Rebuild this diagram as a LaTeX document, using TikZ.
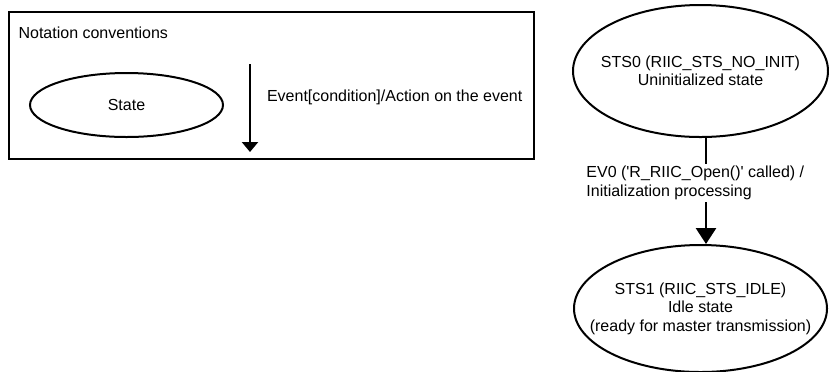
\documentclass[tikz,border=0pt]{standalone}
\usepackage{fontspec}
\setmainfont{Liberation Sans}
\usetikzlibrary{positioning, arrows.meta, shapes.geometric}

\begin{document}
\begin{tikzpicture}[x=0.5pt, y=-0.5pt, node distance = 53pt,
        every node/.style={font=\fontsize{8}{9.25}\selectfont},
        state/.style={draw, ellipse, line width=1pt, inner xsep=-12pt, inner ysep=0pt, align=center},
        evarrow/.style={-{Triangle[length=8pt,width=10pt]}, line width=1.4pt}]
        \useasboundingbox (0,0) rectangle (829,371);
        % notation
        \node (legend) [draw, line width=1pt, minimum width=262.75pt, minimum height=73.5pt, inner sep=0pt] at (271.25,85.5) {};
        \node (title) [anchor=west] at (11.5,33) {Notation conventions};
        \node (state) [state, minimum width=96.5pt, minimum height=32pt] at (126.5,105) {State};
        \coordinate (e1) at (250,64);
        \coordinate[below=44pt of e1] (e2);
        \draw[-{Triangle[length=5pt,width=8pt]}, line width=1.2pt] (e1) -- (e2);
        \node (event) [anchor=west] at (260,97) {Event[condition]/Action on the event};
        % states
        \node (sts0) [state, minimum width=127.5pt, minimum height=66pt] at (700.5,71)
            {STS0 (RIIC\_STS\_NO\_INIT)\\Uninitialized state};
        \node (sts1) [state, minimum width=126.5pt, minimum height=63.5pt, below=of sts0]
            {STS1 (RIIC\_STS\_IDLE)\\Idle state\\(ready for master transmission)};
        \draw[evarrow] ([xshift=2.75pt]sts0.south) -- ([xshift=2.75pt]sts1.north);
        \node (ev0) [fill=white, align=left, anchor=west, inner xsep=2pt, inner ysep=1pt] at (582,183)
            {EV0 (\textquotesingle R\_RIIC\_Open()\textquotesingle{} called) /\\Initialization processing};
        %
\end{tikzpicture}
\end{document}
